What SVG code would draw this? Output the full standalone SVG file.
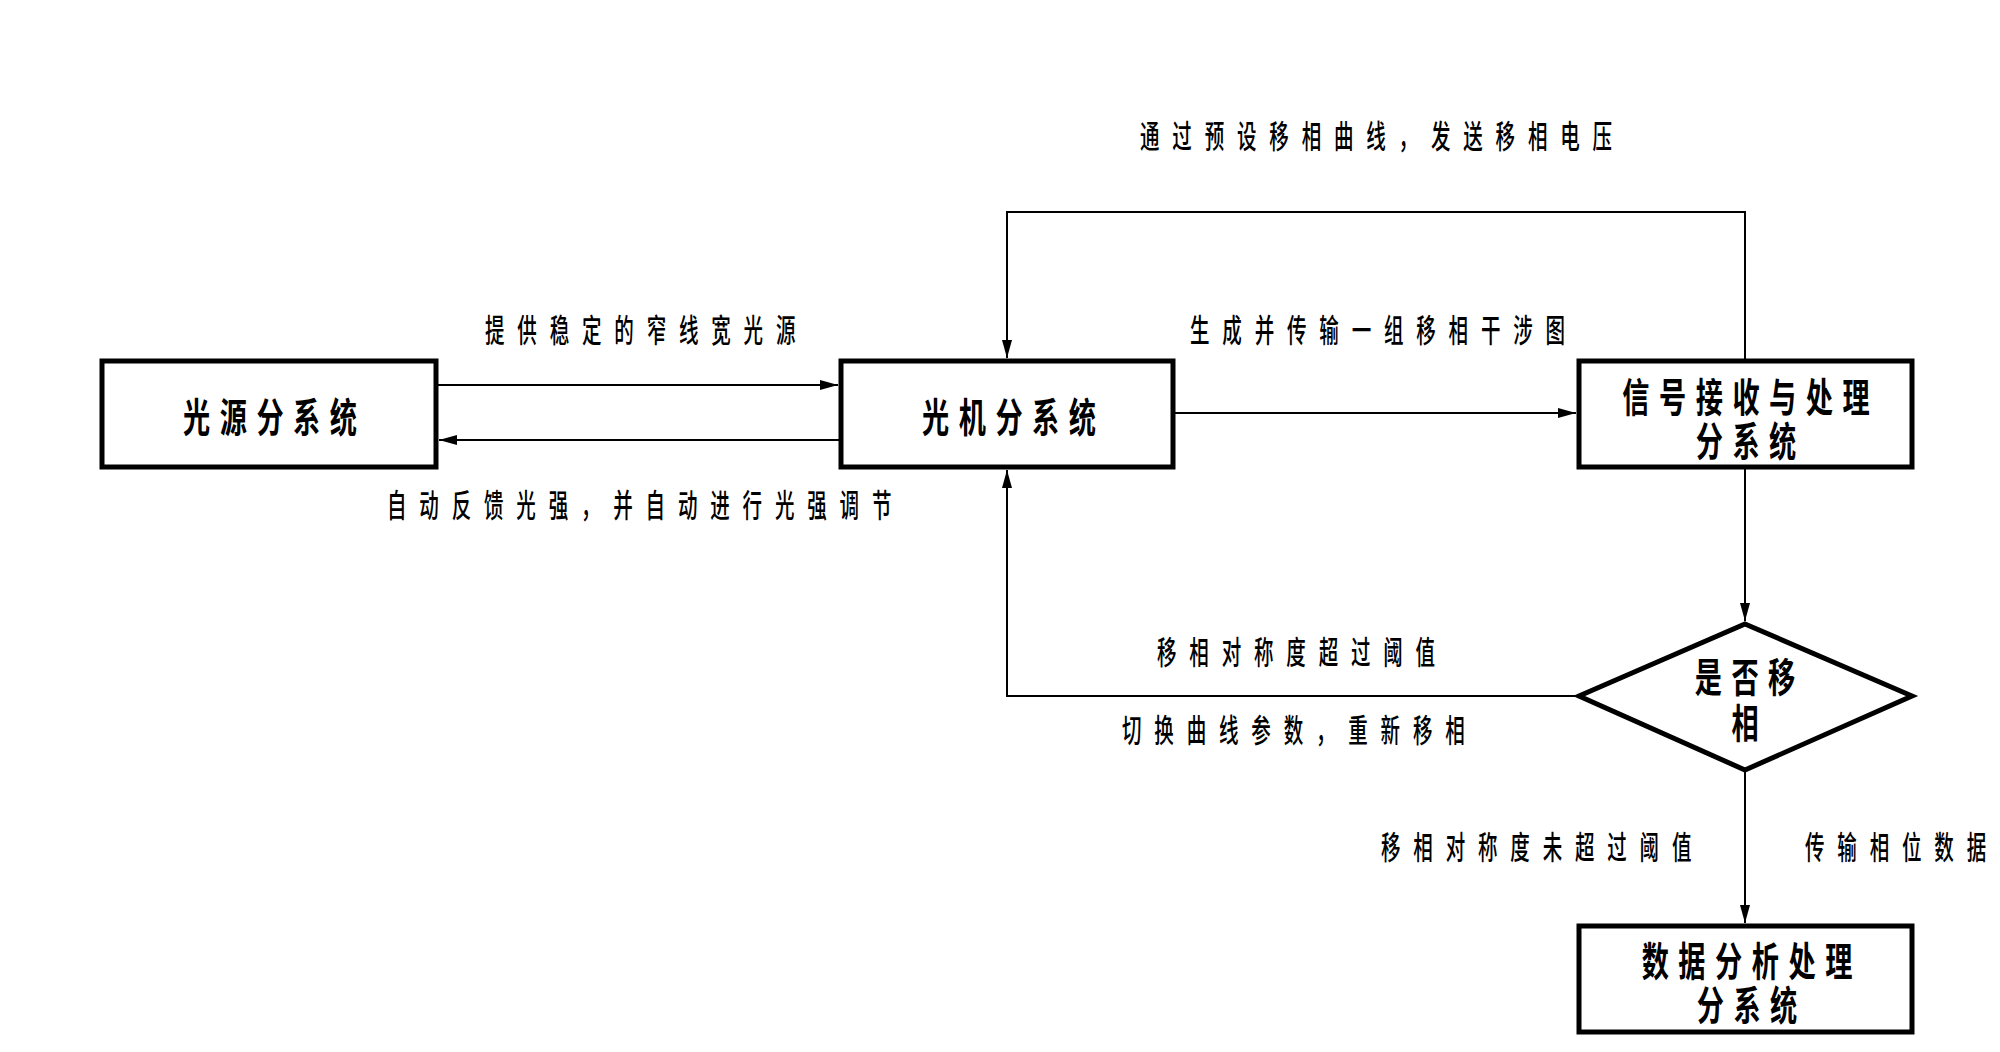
<svg xmlns="http://www.w3.org/2000/svg" width="2000" height="1052" viewBox="0 0 2000 1052">
<style>
.box{fill:#fff;stroke:#000;stroke-width:5}
.con{fill:none;stroke:#000;stroke-width:2}
.nl{font-family:"Noto Sans CJK SC","Noto Sans",sans-serif;font-weight:bold;font-size:40px;letter-spacing:14px;fill:#000;text-anchor:middle}
.el{font-family:"Noto Sans CJK SC","Noto Sans",sans-serif;font-weight:500;font-size:32px;letter-spacing:21px;fill:#000}
</style>
<defs>
<marker id="ah" markerUnits="userSpaceOnUse" markerWidth="20" markerHeight="12" refX="18" refY="6" orient="auto">
<path d="M0,1 L18,6 L0,11 Z" fill="#000"/>
</marker>
</defs>
<rect width="2000" height="1052" fill="#fff"/>
<g id="connectors">
<path class="con" d="M436,385 H838" marker-end="url(#ah)"/>
<path class="con" d="M841,440 H439" marker-end="url(#ah)"/>
<path class="con" d="M1173,413 H1576" marker-end="url(#ah)"/>
<path class="con" d="M1745,361 V212 H1007 V358" marker-end="url(#ah)"/>
<path class="con" d="M1745,467 V621" marker-end="url(#ah)"/>
<path class="con" d="M1579,696 H1007 V470" marker-end="url(#ah)"/>
<path class="con" d="M1745,770 V923" marker-end="url(#ah)"/>
</g>
<g id="edge-labels">
<text class="el" transform="translate(485,342) scale(0.61,1)">提供稳定的窄线宽光源</text>
<text class="el" transform="translate(387,517) scale(0.61,1)">自动反馈光强，并自动进行光强调节</text>
<text class="el" transform="translate(1140,148) scale(0.61,1)">通过预设移相曲线，发送移相电压</text>
<text class="el" transform="translate(1190,342) scale(0.61,1)">生成并传输一组移相干涉图</text>
<text class="el" transform="translate(1157,664) scale(0.61,1)">移相对称度超过阈值</text>
<text class="el" transform="translate(1122,742) scale(0.61,1)">切换曲线参数，重新移相</text>
<text class="el" transform="translate(1381,859) scale(0.61,1)">移相对称度未超过阈值</text>
<text class="el" transform="translate(1805,859) scale(0.61,1)">传输相位数据</text>
</g>
<g id="node-light-source">
<rect class="box" x="102" y="361" width="334" height="106"/>
<text class="nl" transform="translate(270,432) scale(0.68,1)" x="7">光源分系统</text>
</g>
<g id="node-optomech">
<rect class="box" x="841" y="361" width="332" height="106"/>
<text class="nl" transform="translate(1009,432) scale(0.68,1)" x="7">光机分系统</text>
</g>
<g id="node-signal">
<rect class="box" x="1579" y="361" width="333" height="106"/>
<text class="nl" transform="translate(1746,412) scale(0.68,1)"><tspan x="7" y="0">信号接收与处理</tspan><tspan x="7" y="44">分系统</tspan></text>
</g>
<g id="node-decision">
<polygon class="box" points="1745,624 1912,696 1745,770 1579,696"/>
<text class="nl" transform="translate(1745,692) scale(0.68,1)"><tspan x="7" y="0">是否移</tspan><tspan x="7" y="46">相</tspan></text>
</g>
<g id="node-analysis">
<rect class="box" x="1579" y="926" width="333" height="106"/>
<text class="nl" transform="translate(1747,976) scale(0.68,1)"><tspan x="7" y="0">数据分析处理</tspan><tspan x="7" y="44">分系统</tspan></text>
</g>
</svg>
